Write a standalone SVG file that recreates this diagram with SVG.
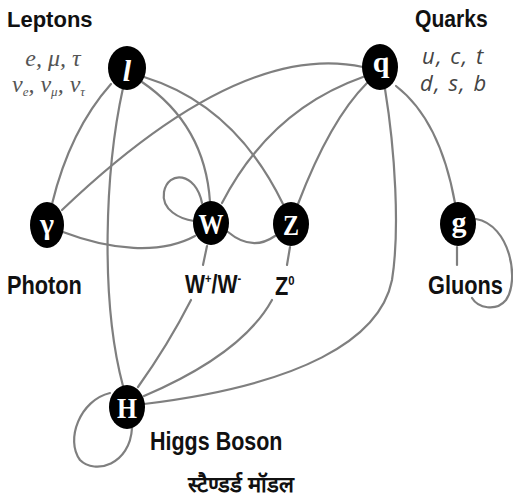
<svg xmlns="http://www.w3.org/2000/svg" width="513" height="504" viewBox="0 0 513 504">
<style>
.edge{fill:none;stroke:#7f7f7f;stroke-width:2.2;stroke-linecap:round}
.node{fill:#000}
.sym{fill:#fff;font-family:"Liberation Serif",serif;font-weight:bold;font-size:30px;text-anchor:middle}
.lab{fill:#111;font-family:"Liberation Sans",Arial,sans-serif;font-weight:bold}
.lep{fill:#555;font-family:"Liberation Serif",serif;font-style:italic;font-size:24px}
.qrk{fill:#444;font-family:"Open Sans","DejaVu Sans",sans-serif;font-style:italic;font-size:22px}
</style>
<rect width="513" height="504" fill="#fff"/>
<g id="connectors">
<path class="edge" d="M111,84 Q70,130 52,204"/>
<path class="edge" d="M123,88 C105,170 100,300 123,386"/>
<path class="edge" d="M142,82 Q205,125 210,202"/>
<path class="edge" d="M144,77 Q235,105 283,204"/>
<path class="edge" d="M363,67 Q240,40 62,210"/>
<path class="edge" d="M363,77 Q270,110 222,203"/>
<path class="edge" d="M367,83 Q330,120 298,204"/>
<path class="edge" d="M385,89 C395,150 400,230 392,280 C380,340 300,385 144,404"/>
<path class="edge" d="M396,86 Q440,120 455,203"/>
<path class="edge" d="M63,232 C110,250 160,255 195,236"/>
<path class="edge" d="M202,203 C196,172 168,170 164,192 C161,210 180,219 194,221"/>
<path class="edge" d="M228,232 Q252,252 275,236"/>
<path class="edge" d="M207,246 L203,265 M191,300 Q168,345 138,387"/>
<path class="edge" d="M290,247 L287,265 M272,300 C250,340 200,372 144,396"/>
<path class="edge" d="M457,247 L457,265"/>
<path class="edge" d="M476,219 C510,225 520,280 506,300 C496,312 478,308 472,298"/>
<path class="edge" d="M110,393 C80,400 65,440 80,460 C95,475 130,465 132,428"/>
</g>
<g id="node-leptons">
<ellipse class="node" cx="127" cy="68" rx="19" ry="22"/>
<text class="sym" x="127" y="81" font-style="italic" font-size="34">l</text>
<text class="lab" x="7" y="27" font-size="22">Leptons</text>
<text class="lep" x="53" y="66" text-anchor="middle">e, μ, τ</text>
<text class="lep" x="12" y="92">ν<tspan font-size="13" dy="4">e</tspan><tspan dy="-4">,  ν</tspan><tspan font-size="13" dy="4">μ</tspan><tspan dy="-4">,  ν</tspan><tspan font-size="13" dy="4">τ</tspan></text>
</g>
<g id="node-quarks">
<ellipse class="node" cx="380" cy="67" rx="18" ry="23"/>
<text class="sym" x="381" y="72" font-size="32">q</text>
<text class="lab" font-size="23" transform="translate(415,27) scale(0.92,1)">Quarks</text>
<text class="qrk" x="422" y="64" letter-spacing="1.5">u, c, t</text>
<text class="qrk" x="420" y="91" letter-spacing="1.5">d, s, b</text>
</g>
<g id="node-photon">
<ellipse class="node" cx="47" cy="225" rx="17" ry="23"/>
<text class="sym" x="47" y="234" font-family="Liberation Sans,sans-serif" font-weight="normal" font-size="36">γ</text>
<text class="lab" font-size="25" transform="translate(7,294) scale(0.87,1)">Photon</text>
</g>
<g id="node-w">
<ellipse class="node" cx="211" cy="223" rx="18" ry="22"/>
<text class="sym" x="211" y="234" font-size="33" textLength="25" lengthAdjust="spacingAndGlyphs">W</text>
<text class="lab" font-size="25" transform="translate(185,293) scale(0.85,1)">W<tspan font-size="13" dy="-10">+</tspan><tspan dy="10">/W</tspan><tspan font-size="13" dy="-10">-</tspan></text>
</g>
<g id="node-z">
<ellipse class="node" cx="291" cy="224" rx="18" ry="22"/>
<text class="sym" x="291" y="235" font-size="32" textLength="16" lengthAdjust="spacingAndGlyphs">Z</text>
<text class="lab" font-size="25" transform="translate(275,295) scale(0.87,1)">Z<tspan font-size="13" dy="-10">0</tspan></text>
</g>
<g id="node-gluons">
<ellipse class="node" cx="458" cy="224" rx="18" ry="22"/>
<text class="sym" x="459" y="232" font-size="32">g</text>
<text class="lab" font-size="25" transform="translate(428,294) scale(0.87,1)">Gluons</text>
</g>
<g id="node-higgs">
<ellipse class="node" cx="127" cy="407" rx="18" ry="22"/>
<text class="sym" x="127" y="418" font-size="32" textLength="20" lengthAdjust="spacingAndGlyphs">H</text>
<text class="lab" font-size="25" transform="translate(150,450) scale(0.86,1)">Higgs Boson</text>
</g>
<text class="lab" x="241" y="492" font-size="22" text-anchor="middle" font-family="'Noto Sans','Noto Sans Devanagari',sans-serif">स्टैण्डर्ड मॉडल</text>
</svg>
